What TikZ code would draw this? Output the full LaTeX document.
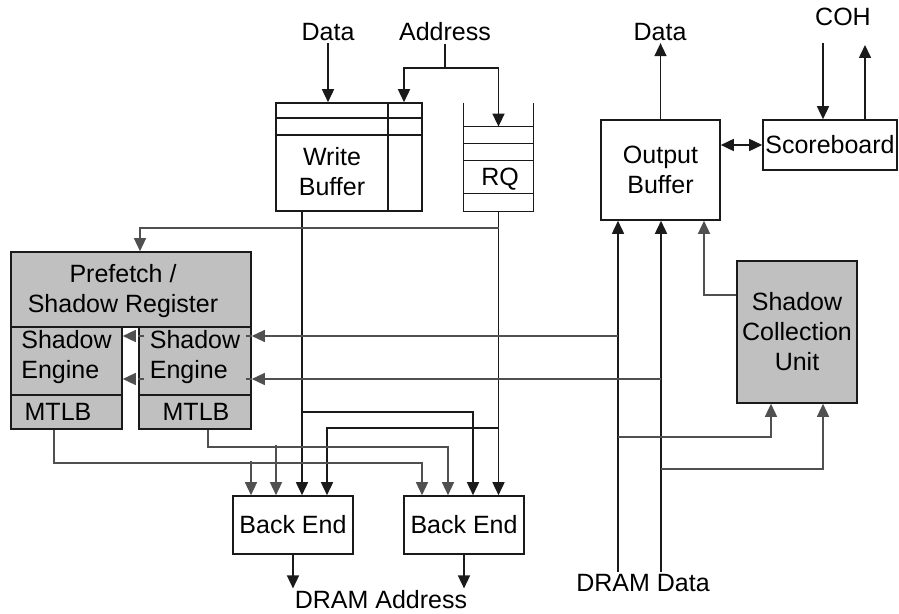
\documentclass[tikz,border=0pt]{standalone}
\usepackage{fontspec}
\setmainfont{Liberation Sans}
\usetikzlibrary{arrows.meta,calc}
\definecolor{shade}{HTML}{C0C0C0}
\definecolor{wire}{HTML}{505050}
\definecolor{ink}{HTML}{1A1A1A}
\begin{document}
\begin{tikzpicture}[x=0.5pt,y=-0.5pt,font=\fontsize{12.5}{15}\selectfont,>={Triangle[length=6.5pt,width=6pt]},box/.style={draw=ink, line width=0.8pt, inner sep=0pt, align=center},shbox/.style={box, fill=shade},bw/.style={ink, line width=0.8pt, ->},gw/.style={wire, line width=0.7pt, ->},lbl/.style={inner sep=1pt, align=center}]
\useasboundingbox (0,0) rectangle (899,614);
\node[box, minimum width=73pt, minimum height=54pt] (wb) at (349,157) {};\node[lbl] (wbt) at (332,172) {Write\\Buffer};
\draw[ink, line width=0.8pt] ($(wb.north west)+(0,16)$) -- ($(wb.north east)+(0,16)$);\draw[ink, line width=0.8pt] ($(wb.north west)+(0,33)$) -- ($(wb.north east)+(0,33)$);\draw[ink, line width=0.8pt] ($(wb.north)+(39,0)$) -- ($(wb.south)+(39,0)$);
\node[inner sep=0pt, minimum width=34.5pt, minimum height=54pt] (rq) at (498.5,157) {};\draw[ink, line width=0.8pt] (rq.north west) |- (rq.south east) -- (rq.north east);
\foreach \d in {24,41,58,91} \draw[ink, line width=0.8pt] ($(rq.north west)+(0,\d)$) -- ($(rq.north east)+(0,\d)$);
\node[lbl] (rqt) at (500,179) {RQ};
\node[box, minimum width=59.5pt, minimum height=50pt] (ob) at (660.5,170) {Output\\Buffer};
\node[box, minimum width=67pt, minimum height=25pt] (sb) at (830,145) {Scoreboard};
\node[shbox, minimum width=120pt, minimum height=37.5pt] (pf) at (131,289.5) {};\node[lbl] (pft) at (123,291) {Prefetch /\\Shadow Register};
\node[shbox, minimum width=55.5pt, minimum height=51pt] (se1) at (66.5,378) {};\node[shbox, minimum width=56pt, minimum height=51pt] (se2) at (195,378) {};
\draw[ink, line width=0.8pt] ($(se1.south west)+(0,-35)$) -- ($(se1.south east)+(0,-35)$);\draw[ink, line width=0.8pt] ($(se2.south west)+(0,-35)$) -- ($(se2.south east)+(0,-35)$);
\node[shbox, minimum width=60pt, minimum height=71pt] (scu) at (797,332) {Shadow\\Collection\\Unit};
\node[box, minimum width=60pt, minimum height=29pt] (be1) at (293,525) {Back End};\node[box, minimum width=60pt, minimum height=29pt] (be2) at (464,525) {Back End};
\node[lbl] (dataIn) at (328,32) {Data};\node[lbl] (addr) at (445,32) {Address};\node[lbl] (dataOut) at (660,32) {Data};\node[lbl] (coh) at (843,17) {COH};
\node[lbl] (dramAddr) at (381,600) {DRAM Address};\node[lbl] (dramData) at (643,583) {DRAM Data};
\coordinate (abus) at (445,68);\coordinate (jp) at (498.5,228);\coordinate (jw) at (302,412);\coordinate (jq) at (498.5,428);
\coordinate (jd1) at (618,336);\coordinate (jd2) at (661,379);\coordinate (js1) at (618,437);\coordinate (js2) at (661,469);
\coordinate (cohin) at (823,43);\coordinate (cohout) at (865,45);
\draw[bw] (dataIn.south) -- (dataIn.south |- wb.north);
\draw[ink, line width=0.8pt] (addr.south) -- (abus);\draw[bw] (abus) -| ($(wb.north)+(55,0)$);\draw[bw] (abus) -| ($(rq.north)+(0,24)$);
\draw[bw] ($(wb.south)+(-47,0)$) -- ($(be1.north)+(9,0)$);\draw[bw] (rq.south) -- (rq.south |- be2.north);
\draw[bw] (jw) -| ($(be2.north)+(9,0)$);\draw[bw] (jq) -| ($(be1.north)+(34,0)$);
\draw[gw] (jp) -| ($(pf.north)+(9,0)$);
\draw[gw] ($(se2.south)+(13,0)$) -- ++(0,17) -| ($(be2.north)+(-16,0)$);\draw[gw] ($(be1.north)+(-17,-50)$) -- ($(be1.north)+(-17,0)$);
\draw[gw] ($(se1.south)+(-12.5,0)$) -- ++(0,33) -| ($(be2.north)+(-42,0)$);\draw[gw] ($(be1.north)+(-42,-34)$) -- ($(be1.north)+(-42,0)$);
\draw[bw] (be1.south) -- (be1.south |- dramAddr.north);\draw[bw] (be2.south) -- (be2.south |- dramAddr.north);
\draw[bw] (dramData.north -| jd1) -- (ob.south -| jd1);\draw[bw] (dramData.north -| jd2) -- (ob.south -| jd2);
\draw[gw] (jd1) -- (jd1 -| se2.east);\draw[gw, dashed] (jd1 -| se2.east) -- (jd1 -| se1.east);
\draw[gw] (jd2) -- (jd2 -| se2.east);\draw[gw, dashed] (jd2 -| se2.east) -- (jd2 -| se1.east);
\draw[gw] (js1) -| ($(scu.south)+(-26,0)$);\draw[gw] (js2) -| ($(scu.south)+(26,0)$);
\draw[gw] ($(scu.west)+(0,-37)$) -| ($(ob.south)+(43.5,0)$);
\draw[bw] (ob.north) -- (ob.north |- dataOut.south);\draw[bw, <->] (sb.west -| ob.east) -- (sb.west);
\draw[bw] (cohin) -- (cohin |- sb.north);\draw[bw] (cohout |- sb.north) -- (cohout);
\node[lbl, fill=shade, align=left, inner sep=0.5pt] (se1t) at (66.5,357) {Shadow\\Engine};\node[lbl, fill=shade, align=left, inner sep=0.5pt] (se2t) at (195,357) {Shadow\\Engine};
\node[lbl] (m1) at (58,412) {MTLB};\node[lbl] (m2) at (196,412) {MTLB};
\end{tikzpicture}
\end{document}
